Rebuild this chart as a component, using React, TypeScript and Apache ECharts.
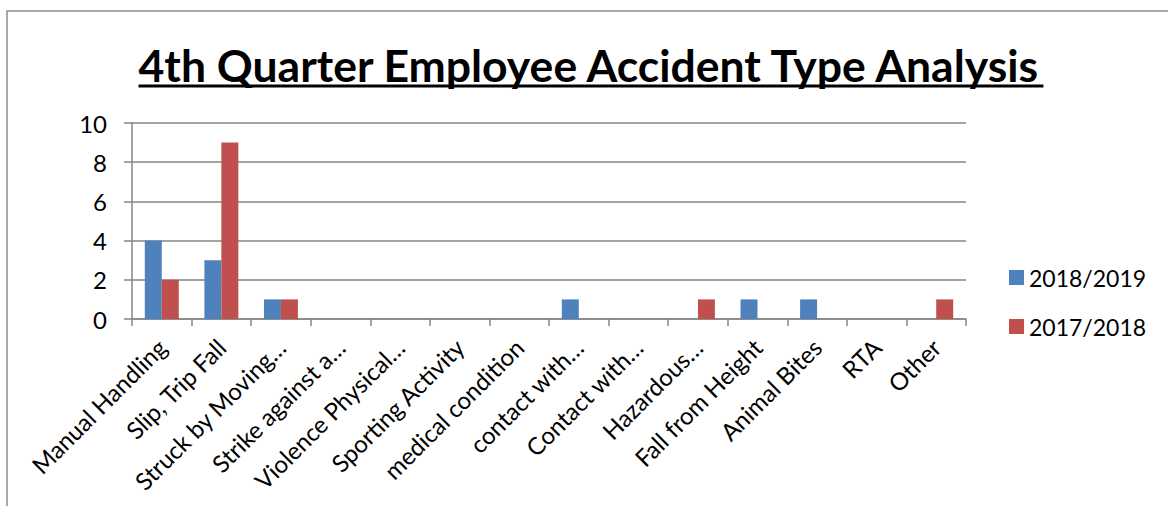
import React, { useEffect, useRef } from "react";
import * as echarts from "echarts";

const categories = [
  "Manual Handling",
  "Slip, Trip Fall",
  "Struck by Moving…",
  "Strike against a…",
  "Violence Physical…",
  "Sporting Activity",
  "medical condition",
  "contact with…",
  "Contact with…",
  "Hazardous…",
  "Fall from Height",
  "Animal Bites",
  "RTA",
  "Other",
];
const series2018_2019 = [4, 3, 1, 0, 0, 0, 0, 1, 0, 0, 1, 1, 0, 0];
const series2017_2018 = [2, 9, 1, 0, 0, 0, 0, 0, 0, 1, 0, 0, 0, 1];
const seriesNames = ["2018/2019", "2017/2018"];
const titleText = "4th Quarter Employee Accident Type Analysis";

const FONT = "Lato, 'Open Sans', sans-serif";
const TITLE_SIZE = 44.5;

export default function App() {
  const ref = useRef<HTMLDivElement>(null);
  useEffect(() => {
    if (!ref.current) return;
    const chart = echarts.init(ref.current, null, { renderer: "svg" });
    const canvas = document.createElement("canvas");
    const ctx = canvas.getContext("2d");
    let tw = 904;
    if (ctx) {
      ctx.font = `bold ${TITLE_SIZE}px Lato`;
      tw = ctx.measureText(titleText).width;
    }
    const cx = 591;
    const titleTop = 42;
    chart.setOption({
      animation: false,
      backgroundColor: "#ffffff",
      title: {
        text: titleText,
        left: cx - tw / 2,
        top: titleTop,
        padding: 0,
        textStyle: {
          fontFamily: FONT,
          fontSize: TITLE_SIZE,
          fontWeight: "bold",
          color: "#000000",
        },
      },
      graphic: [
        {
          type: "rect",
          shape: { x: 7, y: 11, width: 1300, height: 700 },
          style: { fill: "none", stroke: "#8c8c8c", lineWidth: 1.5 },
          silent: true,
        },
        {
          type: "line",
          shape: { x1: cx - tw / 2, y1: 86, x2: cx + tw / 2, y2: 86 },
          style: { stroke: "#000000", lineWidth: 3 },
          silent: true,
        },
      ],
      legend: {
        orient: "vertical",
        left: 1009,
        top: 266,
        padding: 0,
        itemWidth: 15,
        itemHeight: 15,
        itemGap: 26,
        icon: "rect",
        textStyle: { fontFamily: FONT, fontSize: 23, color: "#000000", padding: [0, 0, 0, 0] },
        data: seriesNames,
      },
      grid: { left: 132, right: 202, top: 123, bottom: 187 },
      xAxis: {
        type: "category",
        data: categories,
        axisLine: { lineStyle: { color: "#868686", width: 1.5 } },
        axisTick: { show: true, length: 7, lineStyle: { color: "#868686", width: 1.5 } },
        axisLabel: {
          interval: 0,
          rotate: 45,
          fontFamily: FONT,
          fontSize: 24,
          color: "#000000",
          margin: 24,
        },
      },
      yAxis: {
        type: "value",
        min: 0,
        max: 10,
        interval: 2,
        axisLine: { show: true, lineStyle: { color: "#868686", width: 1.5 } },
        axisTick: { show: true, length: 8, lineStyle: { color: "#868686", width: 1.5 } },
        splitLine: { lineStyle: { color: "#868686", width: 1.5 } },
        axisLabel: { fontFamily: FONT, fontSize: 24, color: "#000000", margin: 25 },
      },
      series: [
        {
          name: seriesNames[0],
          type: "bar",
          data: series2018_2019,
          barGap: "0%",
          barCategoryGap: "43%",
          itemStyle: { color: "#4F81BD" },
        },
        {
          name: seriesNames[1],
          type: "bar",
          data: series2017_2018,
          barGap: "0%",
          barCategoryGap: "43%",
          itemStyle: { color: "#C0504D" },
        },
      ],
    });
    return () => chart.dispose();
  }, []);
  return (
    <div
      ref={ref}
      style={{ position: "absolute", left: 0, top: 0, width: 1168, height: 506 }}
    />
  );
}
